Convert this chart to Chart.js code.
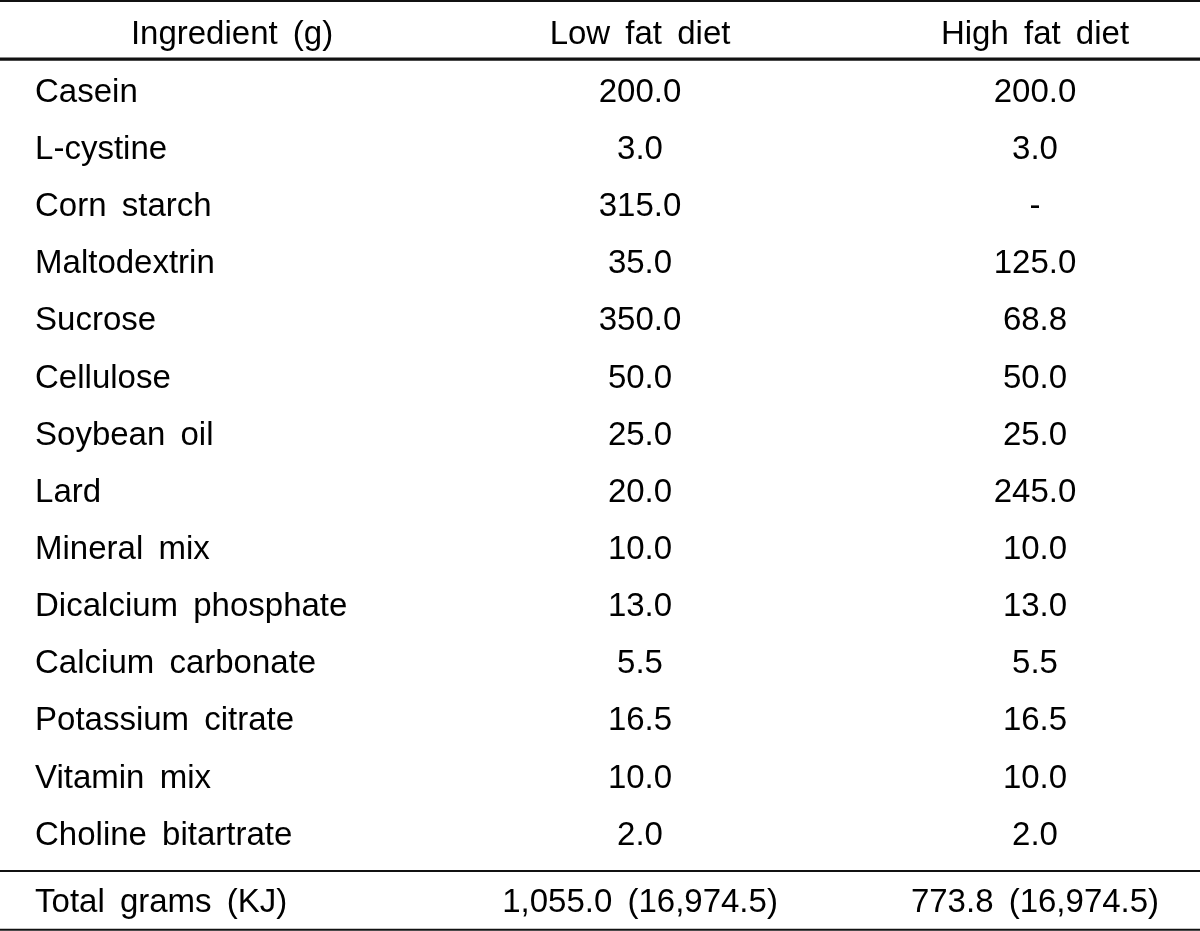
<!DOCTYPE html>
<html>
<head>
<meta charset="utf-8">
<script src="https://cdn.jsdelivr.net/npm/chart.js@4/dist/chart.umd.min.js"></script>
<style>
html,body{margin:0;padding:0;background:#fff;}
#wrap{width:1200px;height:931px;}
</style>
</head>
<body>
<div id="wrap"><canvas id="c" width="1200" height="931"></canvas></div>
<script>
// ---- data ----
const headers = ["Ingredient (g)", "Low fat diet", "High fat diet"];
const ingredients = ["Casein","L-cystine","Corn starch","Maltodextrin","Sucrose","Cellulose","Soybean oil","Lard","Mineral mix","Dicalcium phosphate","Calcium carbonate","Potassium citrate","Vitamin mix","Choline bitartrate"];
const lowFat  = ["200.0","3.0","315.0","35.0","350.0","50.0","25.0","20.0","10.0","13.0","5.5","16.5","10.0","2.0"];
const highFat = ["200.0","3.0","-","125.0","68.8","50.0","25.0","245.0","10.0","13.0","5.5","16.5","10.0","2.0"];
const totalLabel = "Total grams (KJ)";
const totals = ["1,055.0 (16,974.5)", "773.8 (16,974.5)"];

// ---- layout constants (scale units) ----
const HEADER_ROW = -1.005;
const TOTAL_ROW = 14.17;
const RULES = [{y:-1.547,w:2},{y:-0.533,w:3.2},{y:13.675,w:2},{y:14.7,w:2}];
const LABEL_X = -0.5316;
const HEADER_LABEL_X = -0.0329;
const FONT = '33px "Liberation Sans", Arial, sans-serif';

function colData(vals, col){
  const pts = vals.map((v,i)=>({x:col,y:i,label:v}));
  pts.push({x:col,y:TOTAL_ROW,label:totals[col-1]});
  return pts;
}

const tablePlugin = {
  id:'tablePlugin',
  afterDatasetsDraw(chart){
    const ctx = chart.ctx, xs = chart.scales.x, ys = chart.scales.y;
    ctx.save();
    ctx.fillStyle = '#000';
    ctx.font = FONT;
    try{ ctx.wordSpacing = '6px'; }catch(e){}
    ctx.textBaseline = 'alphabetic';
    const BASE = 12.3;
    // rules
    ctx.strokeStyle = '#111';
    RULES.forEach(r=>{
      const y = ys.getPixelForValue(r.y);
      ctx.lineWidth = r.w;
      ctx.beginPath(); ctx.moveTo(chart.chartArea.left,y); ctx.lineTo(chart.chartArea.right,y); ctx.stroke();
    });
    // header
    const hy = ys.getPixelForValue(HEADER_ROW)+BASE;
    ctx.textAlign='center';
    ctx.fillText(headers[0], xs.getPixelForValue(HEADER_LABEL_X), hy);
    ctx.fillText(headers[1], xs.getPixelForValue(1), hy);
    ctx.fillText(headers[2], xs.getPixelForValue(2), hy);
    // row labels
    ctx.textAlign='left';
    const lx = xs.getPixelForValue(LABEL_X);
    ingredients.forEach((n,i)=>ctx.fillText(n, lx, ys.getPixelForValue(i)+BASE));
    ctx.fillText(totalLabel, lx, ys.getPixelForValue(TOTAL_ROW)+BASE);
    // cell values from dataset elements
    ctx.textAlign='center';
    chart.data.datasets.forEach((ds,di)=>{
      const meta = chart.getDatasetMeta(di);
      meta.data.forEach((el,i)=>{
        ctx.fillText(ds.data[i].label, el.x, el.y+BASE);
      });
    });
    ctx.restore();
  }
};

new Chart(document.getElementById('c'),{
  type:'scatter',
  data:{datasets:[
    {label:headers[1], data:colData(lowFat,1), pointRadius:0, pointHoverRadius:0},
    {label:headers[2], data:colData(highFat,2), pointRadius:0, pointHoverRadius:0}
  ]},
  options:{
    responsive:false, animation:false,
    layout:{padding:0},
    plugins:{legend:{display:false}, tooltip:{enabled:false}},
    scales:{
      x:{type:'linear', min:-0.6203, max:2.4177, display:false},
      y:{type:'linear', min:-1.566, max:14.724, reverse:true, display:false}
    }
  },
  plugins:[tablePlugin]
});
</script>
</body>
</html>
